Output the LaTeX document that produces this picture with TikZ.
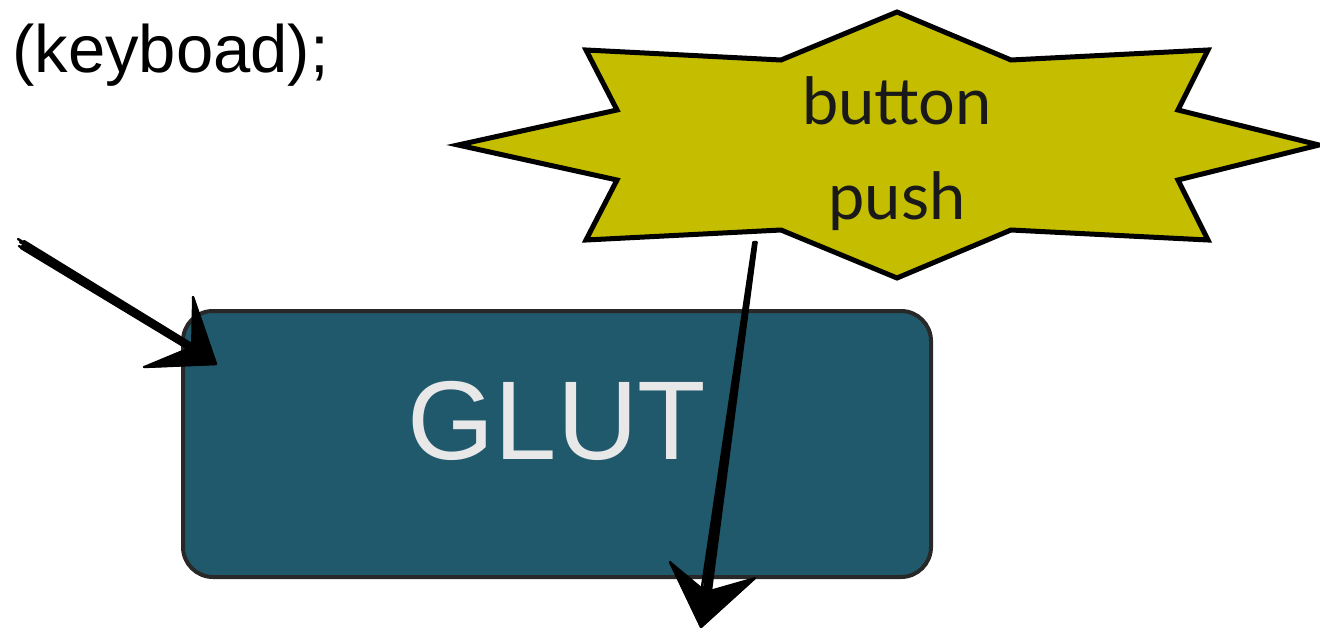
\documentclass[tikz,border=0pt]{standalone}
\usepackage{fontspec}
\setmainfont{Lato}
\newfontfamily\helv{Liberation Sans}
\begin{document}
\begin{tikzpicture}[x=1pt,y=-1pt,
  sketch/.style={draw=black,line width=2.4pt,line cap=round},
  sketchfill/.style={fill=black,draw=black,line width=2pt,line join=round},
  glutbox/.style={draw=boxborder,line width=4pt,fill=glutcol,rounded corners=30pt,
    minimum width=748pt,minimum height=266pt,inner sep=0pt,
    text=glutText,font=\helv\fontsize{112}{116}\selectfont},
  starlabel/.style={font=\fontsize{65}{95}\selectfont,align=center,text=black!90}]
\definecolor{glutcol}{RGB}{33,89,108}
\definecolor{boxborder}{RGB}{40,40,40}
\definecolor{glutText}{RGB}{232,232,232}
\definecolor{starcol}{RGB}{196,189,0}
\useasboundingbox (0,0) rectangle (1320,632);
\fill[white] (0,0) rectangle (1320,632);
% keyboard text
\node[anchor=base west,inner sep=0pt,font=\helv\fontsize{67}{72}\selectfont] (kb) at (12,72) {(keyboad);};
% star
\draw[line width=5pt,line join=miter,fill=starcol]
 (897,12) -- (1011,60) -- (1208,50) -- (1178,110) -- (1319,145) -- (1178,180)
 -- (1208,240) -- (1011,230) -- (897,278) -- (781,230) -- (586,240) -- (617,180)
 -- (458,145) -- (617,110) -- (586,50) -- (781,60) -- cycle;
\node[starlabel] (btn) at (897,153.5) {button\\push};
% GLUT box
\node[glutbox] (glut) at (557,444) {\raisebox{48pt}{GLUT}};
% arrow 1
\coordinate (a1s) at (20,242);
\coordinate (a1t) at (216,364);
\coordinate (a1u) at (193,297);
\coordinate (a1l) at (144,367);
\coordinate (a1m) at (192,347);
\foreach \dx/\dy in {0/0,2/4,-2/-3,4/-1,-1/4,1/6,3/2}{
  \draw[sketch] ([shift={(\dx,\dy)}]a1s) -- ([shift={(\dx*0.8,\dy*0.8)}]a1m);
}
\fill[sketchfill] (a1t) -- (a1u) -- (a1m) -- (a1l) -- cycle;
\draw[sketch] (a1t) -- (a1u) (a1t) -- (a1l);
% arrow 2
\coordinate (a2s) at (755,242);
\coordinate (a2t) at (701,627);
\coordinate (a2l) at (670,562);
\coordinate (a2r) at (755,578);
\coordinate (a2m) at (706,592);
\foreach \dx in {0,2,-2,4,-4,1,-1,3}{
  \draw[sketch] ([shift={(\dx*0.4,0)}]a2s) -- ([shift={(\dx*1.2,0)}]a2m);
}
\fill[sketchfill] (a2t) -- (a2l) -- (a2m) -- (a2r) -- cycle;
\draw[sketch] (a2t) -- (a2l) (a2t) -- (a2r);
\end{tikzpicture}
\end{document}
